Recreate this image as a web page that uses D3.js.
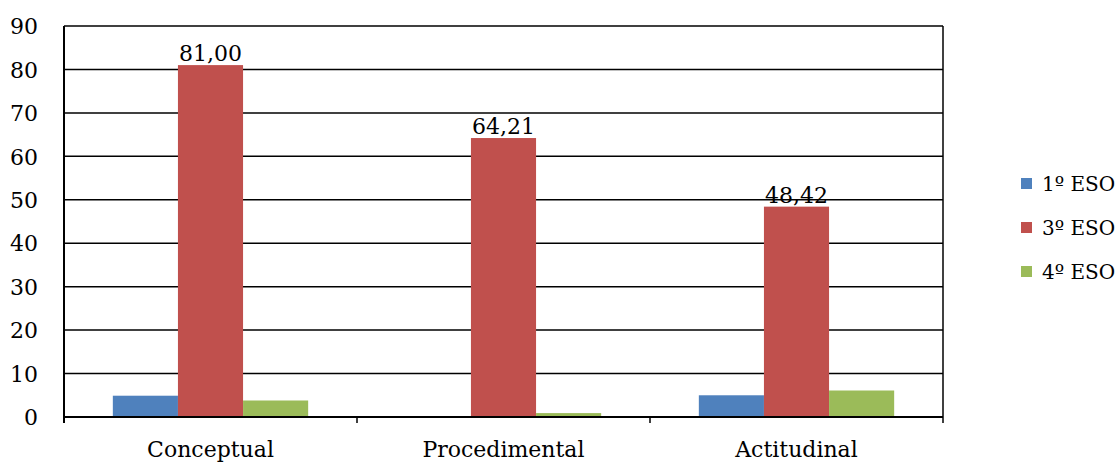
<!DOCTYPE html>
<html>
<head>
<meta charset="utf-8">
<script src="https://cdn.jsdelivr.net/npm/d3@7"></script>
<style>
  body { margin: 0; background: #fff; }
  text { font-family: "DejaVu Serif", "Liberation Serif", serif; fill: #000; }
</style>
</head>
<body>
<div id="chart"></div>
<script>
const categories = ["Conceptual", "Procedimental", "Actitudinal"];
const seriesNames = ["1º ESO", "3º ESO", "4º ESO"];
const eso1 = [4.9, 0, 5.0];
const eso3 = [81.00, 64.21, 48.42];
const eso4 = [3.8, 0.9, 6.1];
const yTicks = [0, 10, 20, 30, 40, 50, 60, 70, 80, 90];
const colors = ["#4F81BD", "#C0504D", "#9BBB59"];

const W = 1120, H = 462;
const margin = { top: 26, right: 177, bottom: 45, left: 64 };
const iw = W - margin.left - margin.right;
const ih = H - margin.top - margin.bottom;
const fs = "22px";

const svg = d3.select("#chart").append("svg")
  .attr("width", W).attr("height", H);
const g = svg.append("g").attr("transform", `translate(${margin.left},${margin.top})`);

const x = d3.scaleBand().domain(categories).range([0, iw]).paddingInner(0).paddingOuter(0);
const y = d3.scaleLinear().domain([0, 90]).range([ih, 0]);
// gap width 150%: bars take 3 / (3 + 1.5) of the band
const x1 = d3.scaleBand().domain(seriesNames)
  .range([0, x.bandwidth()]).paddingOuter(0.75).paddingInner(0);

// grid lines
g.selectAll("line.grid").data(yTicks.slice(1)).enter().append("line")
  .attr("x1", 0).attr("x2", iw)
  .attr("y1", d => y(d)).attr("y2", d => y(d))
  .attr("stroke", "#000").attr("stroke-width", 1.5);

// y axis labels
const yAxis = d3.axisLeft(y).tickValues(yTicks).tickSize(0).tickPadding(26).tickFormat(d3.format("d"));
g.append("g").call(yAxis)
  .call(s => s.select(".domain").remove())
  .selectAll("text")
  .style("font-size", fs).attr("dy", "0.35em");

// bars
const rows = categories.map((c, i) => ({
  cat: c,
  vals: [eso1[i], eso3[i], eso4[i]]
}));
const grp = g.selectAll("g.cat").data(rows).enter().append("g")
  .attr("transform", d => `translate(${x(d.cat)},0)`);
grp.selectAll("rect").data(d => d.vals.map((v, j) => ({ v, s: seriesNames[j], j })))
  .enter().append("rect")
  .attr("x", d => x1(d.s))
  .attr("width", x1.bandwidth())
  .attr("y", d => y(d.v))
  .attr("height", d => ih - y(d.v))
  .attr("fill", d => colors[d.j]);

// data labels on 3º ESO
grp.append("text")
  .attr("x", x1("3º ESO") + x1.bandwidth() / 2)
  .attr("y", d => y(d.vals[1]) - 4)
  .attr("text-anchor", "middle")
  .style("font-size", fs)
  .text(d => d3.format(".2f")(d.vals[1]).replace(".", ","));

// axes lines
g.append("line").attr("x1", 0).attr("x2", 0).attr("y1", 0).attr("y2", ih + 6)
  .attr("stroke", "#000").attr("stroke-width", 2);
g.append("line").attr("x1", iw).attr("x2", iw).attr("y1", 0).attr("y2", ih)
  .attr("stroke", "#000").attr("stroke-width", 1.5);
g.append("line").attr("x1", 0).attr("x2", iw).attr("y1", ih).attr("y2", ih)
  .attr("stroke", "#000").attr("stroke-width", 2);

// x axis ticks between categories
const xb = categories.map(c => x(c)).concat([iw]);
g.selectAll("line.xt").data(xb).enter().append("line")
  .attr("x1", d => d).attr("x2", d => d)
  .attr("y1", ih).attr("y2", ih + 6)
  .attr("stroke", "#000").attr("stroke-width", 1.5);

g.selectAll("text.cat").data(categories).enter().append("text")
  .attr("x", d => x(d) + x.bandwidth() / 2)
  .attr("y", ih + 40)
  .attr("text-anchor", "middle")
  .style("font-size", fs)
  .text(d => d);

// legend
const leg = svg.append("g").attr("transform", "translate(1021,178)");
const li = leg.selectAll("g").data(seriesNames).enter().append("g")
  .attr("transform", (d, i) => `translate(0,${i * 44})`);
li.append("rect").attr("width", 11).attr("height", 11).attr("y", 0)
  .attr("fill", (d, i) => colors[i]);
li.append("text").attr("x", 21).attr("y", 6).attr("dy", "0.35em")
  .style("font-size", "20px").text(d => d);
</script>
</body>
</html>
